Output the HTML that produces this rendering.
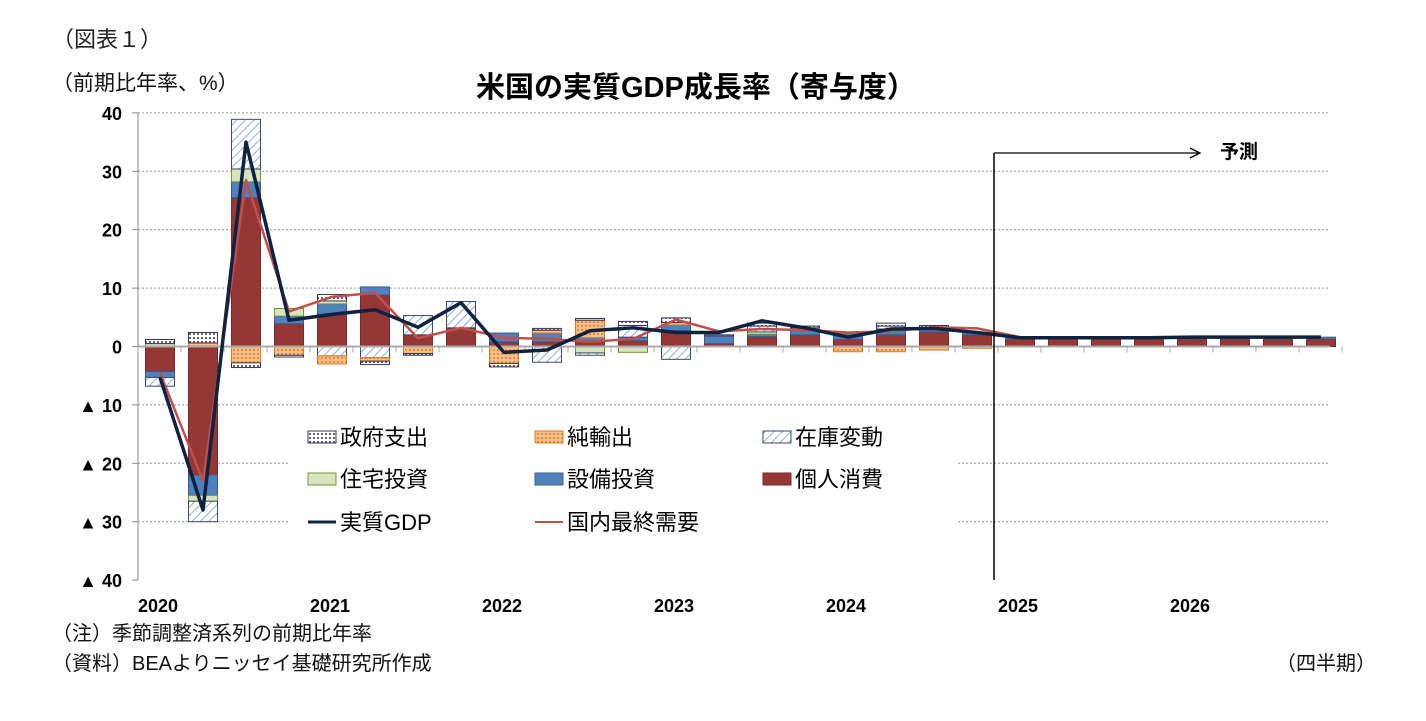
<!DOCTYPE html>
<html><head><meta charset="utf-8">
<style>
body{margin:0;background:#fff;width:1426px;height:716px;overflow:hidden;font-family:"Liberation Sans","Noto Sans CJK JP",sans-serif}
svg text{font-family:"Liberation Sans","Noto Sans CJK JP",sans-serif}
</style></head><body>
<svg id="s" width="1426" height="716" xmlns="http://www.w3.org/2000/svg">
<defs>
<pattern id="pg" width="4" height="4" patternUnits="userSpaceOnUse"><rect width="4" height="4" fill="#fff"/><circle cx="2" cy="2" r="1.1" fill="#5a4f6e"/></pattern>
<pattern id="po" width="4" height="4" patternUnits="userSpaceOnUse"><rect width="4" height="4" fill="#f7c08a"/><circle cx="2" cy="2" r="1" fill="#e07a20"/></pattern>
<pattern id="ph" width="6" height="6" patternUnits="userSpaceOnUse" patternTransform="rotate(45)"><rect width="6" height="6" fill="#fff"/><line x1="0" y1="0" x2="0" y2="6" stroke="#6f93bd" stroke-width="1.5"/></pattern>
</defs>
<text x="52" y="47" font-size="22" font-family="Liberation Serif,Noto Serif CJK SC,serif" fill="#222">（図表１）</text>
<text x="52" y="90" font-size="21" fill="#111">（前期比年率、%）</text>
<text x="476" y="97" font-size="29" font-weight="bold" fill="#000">米国の実質GDP成長率（寄与度）</text>
<g id="g"></g>
<text x="52" y="640" font-size="20" fill="#111">（注）季節調整済系列の前期比年率</text>
<text x="52" y="670" font-size="20" fill="#111">（資料）BEAよりニッセイ基礎研究所作成</text>
<text x="1276" y="670" font-size="20" fill="#111">（四半期）</text>
</svg>
<script>
const g=document.getElementById('g');let h='';
const Y=v=>346.5-v*5.84;
for(let v=40;v>=-40;v-=10){
 if(v!==0&&v!==-40) h+=`<line x1="138" x2="1330" y1="${Y(v)}" y2="${Y(v)}" stroke="#999" stroke-dasharray="2,2"/>`;
 const lab=v<0?'▲ '+(-v):''+v;
 h+=`<text x="122" y="${Y(v)+7}" font-size="18" font-weight="bold" text-anchor="end" fill="#000">${lab}</text>`;
 h+=`<line x1="132" x2="138" y1="${Y(v)}" y2="${Y(v)}" stroke="#888"/>`;
}
h+=`<line x1="138" x2="138" y1="${Y(40)}" y2="${Y(-40)}" stroke="#888"/>`;
const D=[
[0.7,0,-1.5,0.5,-1,-4.3,-5.3,-4.5],
[1.8,0.6,-3.5,-1,-3.5,-22,-28,-23],
[-0.8,-2.8,8.5,2.2,2.7,25.5,35,28.5],
[-0.3,-1.5,0,1.3,1.3,3.9,4.5,6],
[1.1,-1.4,-1.6,0.5,1.8,5.5,5.5,8.5],
[-0.6,-0.6,-1.9,0,1.4,8.8,6.3,9.2],
[-0.3,-1.2,3.3,0,0,2,3.3,1.4],
[0,0,4.5,0,0,3.2,7.5,3.2],
[-0.6,-2.9,0,0,1.5,0.8,-1,1.5],
[0.3,0.5,-2.7,0,1.5,0.8,-0.6,1.3],
[0.3,3,-0.4,-1.1,0.5,1,2.7,0.8],
[0.7,0,2,-1,0.6,1,3.2,1.3],
[0.8,0.4,-2.2,0,1,2.7,2.4,4.6],
[0.2,0,0,0,1.3,0.5,2.4,2.6],
[0.5,0,1,0.4,0.4,1.7,4.4,3],
[0.3,0,0,0.2,1,2,3.2,2.8],
[0.1,-0.9,0,0.1,1,1.2,1.6,2.4],
[0.5,-0.9,0.5,0,1,2,3,2.6],
[0.4,-0.6,0,0,0.7,2.5,3.1,3.3],
[0,-0.3,0,0,0.4,2,2.4,3.1],
[0,0,0,0,0.3,1.3,1.5,1.6],
[0,0,0,0,0.3,1.3,1.5,1.5],
[0,0,0,0,0.3,1.3,1.5,1.5],
[0,0,0,0,0.3,1.3,1.5,1.5],
[0,0,0,0,0.3,1.3,1.6,1.6],
[0,0,0,0,0.3,1.3,1.6,1.6],
[0,0,0,0,0.3,1.3,1.6,1.6],
[0,0,0,0,0.3,1.3,1.6,1.6]];
const F=['url(#pg)','url(#po)','url(#ph)','#d7e4bd','#4f81bd','#953735'];
const S=['#3a3550','#e07a20','#3a4a6a','#76923c','#385d8a','#7a2a28'];
const order=[5,4,3,2,1,0];
const cx=i=>160+43*i;
D.forEach((d,i)=>{
 let p=0,n=0;
 order.forEach(k=>{const v=d[k];if(!v)return;
  let y0,y1;
  if(v>0){y0=p;y1=p+v;p=y1;}else{y0=n;y1=n+v;n=y1;}
  const top=Math.min(Y(y0),Y(y1)),hh=Math.abs(Y(y0)-Y(y1));
  h+=`<rect x="${cx(i)-14.5}" y="${top}" width="29" height="${hh}" fill="${F[k]}" stroke="${S[k]}" stroke-width="1"/>`;
 });
});
h+=`<line x1="138" x2="1330" y1="${Y(0)}" y2="${Y(0)}" stroke="#aaa" stroke-width="2"/>`;
for(let i=0;i<=28;i++){h+=`<line x1="${138+43*i}" x2="${138+43*i}" y1="${Y(0)}" y2="${Y(0)+6}" stroke="#aaa"/>`;}
const ln=(k,c,w)=>{h+=`<polyline fill="none" stroke="${c}" stroke-width="${w}" stroke-linejoin="round" points="${D.map((d,i)=>cx(i)+','+Y(d[k])).join(' ')}"/>`;};
ln(7,'#c0504d',2.5);ln(6,'#0f2340',3.5);
['2020','2021','2022','2023','2024','2025','2026'].forEach((t,j)=>h+=`<text x="${158+172*j}" y="612" font-size="18" text-anchor="middle" font-weight="bold" fill="#000">${t}</text>`);
h+=`<line x1="994" x2="994" y1="153" y2="580" stroke="#000" stroke-width="1.5"/><line x1="994" x2="1198" y1="153" y2="153" stroke="#000" stroke-width="1.2"/><polyline points="1190,148 1200,153 1190,158" fill="none" stroke="#000" stroke-width="1.3"/>`;
h+=`<text x="1220" y="158" font-size="19" font-weight="bold" fill="#000">予測</text>`;
h+=`<rect x="290" y="414" width="668" height="132" fill="#fff"/>`;
const L=[[308,437,'pg','政府支出'],[535,437,'po','純輸出'],[763,437,'ph','在庫変動'],[308,479,3,'住宅投資'],[535,479,4,'設備投資'],[763,479,5,'個人消費']];
const kk={pg:0,po:1,ph:2};
L.forEach(([x,y,f,t])=>{const k=typeof f==='string'?kk[f]:f;
 h+=`<rect x="${x}" y="${y-6}" width="28" height="12" fill="${F[k]}" stroke="${S[k]}"/><text x="${x+32}" y="${y+8}" font-size="22" fill="#000">${t}</text>`;});
h+=`<line x1="308" x2="336" y1="522" y2="522" stroke="#0f2340" stroke-width="3"/><text x="340" y="530" font-size="22" fill="#000">実質GDP</text>`;
h+=`<line x1="535" x2="563" y1="522" y2="522" stroke="#c0504d" stroke-width="2"/><text x="567" y="530" font-size="22" fill="#000">国内最終需要</text>`;
g.innerHTML=h;
</script>
</body></html>
